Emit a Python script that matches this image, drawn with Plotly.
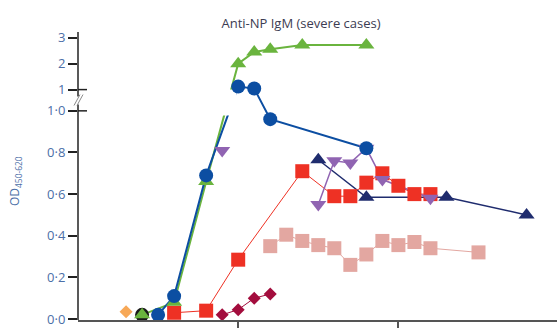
import plotly.graph_objects as go

# ---------------- data (day, OD value) ----------------
days_orange = [3]
od_orange = [0.035]

days_black = [4]
od_black = [0.02]

days_green = [4, 6, 8, 10, 11, 12, 14, 18]
od_green = [0.02, 0.08, 0.66, 2.0, 2.45, 2.55, 2.72, 2.72]

days_blue = [5, 6, 8, 10, 11, 12, 18]
od_blue = [0.02, 0.11, 0.69, 1.115, 1.04, 0.96, 0.82]

days_red = [6, 8, 10, 14, 16, 17, 18, 19, 20, 21, 22]
od_red = [0.03, 0.04, 0.285, 0.71, 0.59, 0.59, 0.655, 0.70, 0.64, 0.60, 0.60]

days_purple = [9, None, 15, 16, 17, 18, 19, 22]
od_purple = [0.81, None, 0.55, 0.76, 0.75, 0.82, 0.67, 0.58]

days_navy = [15, 18, 23, 28]
od_navy = [0.765, 0.585, 0.585, 0.50]

days_pink = [12, 13, 14, 15, 16, 17, 18, 19, 20, 21, 22, 25]
od_pink = [0.35, 0.405, 0.375, 0.355, 0.34, 0.26, 0.31, 0.375, 0.355, 0.37, 0.34, 0.32]

days_crimson = [9, 10, 11, 12]
od_crimson = [0.02, 0.045, 0.10, 0.12]

lower_ticks = [0.0, 0.2, 0.4, 0.6, 0.8, 1.0]
lower_labels = ["0·0", "0·2", "0·4", "0·6", "0·8", "1·0"]
upper_ticks = [1, 2, 3]
upper_labels = ["1", "2", "3"]

# ---------------- broken-axis scale ----------------
GAP = 21.4 / 209.6      # blank band between 1·0 (lower) and 1 (upper)
K = 26.15 / 209.6       # compression of the upper segment


def tr(v):
    if v is None:
        return None
    return v if v <= 1 else 1 + GAP + (v - 1) * K


def trl(vals):
    return [tr(v) for v in vals]


YMIN, YMAX = -0.0048, 1.3788
PW = 479.0   # plot width px


def px_to_t(p):
    return (321 - p) / 209.6


series = [
    # name, days, vals, color, symbol, size, line width
    ("pink", days_pink, od_pink, "#e3a7a1", "square", 14, 1),
    ("crimson", days_crimson, od_crimson, "#a30d3d", "diamond", 10, 1),
    ("red", days_red, od_red, "#ee3124", "square", 14, 1),
    ("navy", days_navy, od_navy, "#1f2c6e", "triangle-up", 14, 1.5),
    ("purple", days_purple, od_purple, "#9064b2", "triangle-down", 14, 1.5),
    ("black", days_black, od_black, "#1a1a1a", "circle", 14, 1.5),
    ("green", days_green, od_green, "#6ab43e", "triangle-up", 14, 2),
    ("blue", days_blue, od_blue, "#0c4ea2", "circle", 14, 2),
    ("orange", days_orange, od_orange, "#f7a857", "diamond", 10, 1),
]

fig = go.Figure()

# line layer
for name, d, v, c, sym, sz, lw in series:
    if len(d) > 1:
        fig.add_trace(go.Scatter(x=d, y=trl(v), mode="lines",
                                 line=dict(color=c, width=lw),
                                 connectgaps=False, hoverinfo="skip",
                                 showlegend=False))

# white band hiding the lines in the axis break
fig.add_trace(go.Scatter(x=[0.1, 9.9, 9.9, 0.1],
                         y=[px_to_t(116), px_to_t(116), 1 + GAP, 1 + GAP],
                         fill="toself", fillcolor="white", mode="lines",
                         line=dict(width=0, color="white"),
                         hoverinfo="skip", showlegend=False))

# marker layer
for name, d, v, c, sym, sz, lw in series:
    fig.add_trace(go.Scatter(x=d, y=trl(v), mode="markers",
                             marker=dict(color=c, symbol=sym, size=sz,
                                         line=dict(width=0)),
                             cliponaxis=False, name=name,
                             showlegend=False))

tickvals = [tr(t) for t in lower_ticks] + [tr(t) for t in upper_ticks if t > 1] + [1 + GAP]
ticktext = lower_labels + [l for t, l in zip(upper_ticks, upper_labels) if t > 1] + ["1"]

shapes = []
axc = "#222222"
# y axis line with a break
shapes.append(dict(type="line", xref="paper", yref="y", x0=0, x1=0,
                   y0=YMIN, y1=px_to_t(105), line=dict(color=axc, width=1.5), layer="above"))
shapes.append(dict(type="line", xref="paper", yref="y", x0=0, x1=0,
                   y0=px_to_t(97), y1=YMAX, line=dict(color=axc, width=1.5), layer="above"))
# break slashes
for dx in (0, 3):
    shapes.append(dict(type="line", xref="paper", yref="y",
                       x0=(74 + dx - 78) / PW, x1=(80 + dx - 78) / PW,
                       y0=px_to_t(106), y1=px_to_t(95),
                       line=dict(color="#8a8a8a", width=1), layer="above"))
# ticks crossing the axis at both sides of the break
for tv in (1.0, 1 + GAP):
    shapes.append(dict(type="line", xref="paper", yref="y",
                       x0=0, x1=9 / PW, y0=tv, y1=tv,
                       line=dict(color=axc, width=1.5), layer="above"))

lab = "#4c6fa8"
fig.update_layout(
    width=557, height=328,
    margin=dict(l=78, r=0, t=32, b=6),
    paper_bgcolor="white", plot_bgcolor="white",
    font=dict(family="Open Sans, Noto Sans, sans-serif"),
    title=dict(text="Anti-NP IgM (severe cases)", x=301 / 557, xanchor="center",
               y=1 - 23 / 328, yanchor="middle",
               font=dict(size=13, color="#3c3c52")),
    xaxis=dict(range=[0, 29.9], showgrid=False, zeroline=False,
               showline=True, linecolor="#555555", linewidth=2,
               ticks="outside", tickvals=[10, 20], ticklen=6, tickwidth=1.5,
               tickcolor="#555555", showticklabels=False),
    yaxis=dict(range=[YMIN, YMAX], showgrid=False, zeroline=False,
               showline=False, ticks="outside", tickvals=tickvals,
               ticktext=ticktext, ticklen=9, tickwidth=1.5, tickcolor=axc,
               ticklabeloverflow="allow",
               tickfont=dict(size=13, color=lab)),
    shapes=shapes,
    annotations=[dict(text="OD<sub>450-620</sub>", xref="paper", yref="paper",
                      x=(15 - 78) / PW, y=(322 - 182) / 290, textangle=-90,
                      showarrow=False, xanchor="center", yanchor="middle",
                      font=dict(size=12, color=lab))],
)

fig.write_html("out.html",
               config={"displayModeBar": False},
               post_script="document.body.style.margin='0';"
                           "document.body.style.overflow='hidden';"
                           "document.documentElement.style.overflow='hidden';")
